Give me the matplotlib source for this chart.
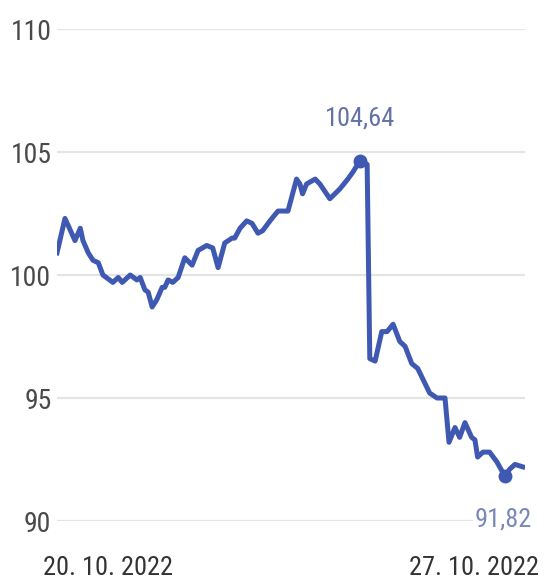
import matplotlib.pyplot as plt
from matplotlib import font_manager

# days since 20. 10. 2022 and index level
days = [0, 0.12, 0.27, 0.35, 0.39, 0.47, 0.54, 0.62, 0.69, 0.84, 0.92, 0.98,
        1.10, 1.20, 1.25, 1.32, 1.37, 1.43, 1.50, 1.58, 1.62, 1.67, 1.74, 1.82,
        1.92, 2.03, 2.12, 2.25, 2.34, 2.42, 2.52, 2.63, 2.67, 2.75, 2.85, 2.93,
        3.02, 3.09, 3.20, 3.32, 3.47, 3.60, 3.65, 3.69, 3.75, 3.88, 3.95, 4.10,
        4.25, 4.37, 4.45, 4.55, 4.66, 4.70, 4.78, 4.88, 4.96, 5.05, 5.15, 5.23,
        5.33, 5.42, 5.60, 5.71, 5.83, 5.89, 5.98, 6.05, 6.13, 6.23, 6.28, 6.32,
        6.40, 6.50, 6.61, 6.73, 6.80, 6.88, 7.00]
values = [100.9, 102.3, 101.4, 101.9, 101.4, 100.9, 100.6, 100.5, 100.0, 99.7, 99.9, 99.7,
          100.0, 99.8, 99.9, 99.4, 99.3, 98.7, 99.0, 99.5, 99.5, 99.8, 99.7, 99.9,
          100.7, 100.4, 101.0, 101.2, 101.1, 100.3, 101.3, 101.5, 101.5, 101.9, 102.2, 102.1,
          101.7, 101.8, 102.2, 102.6, 102.6, 103.9, 103.7, 103.3, 103.7, 103.9, 103.7, 103.1,
          103.5, 103.9, 104.2, 104.64, 104.5, 96.6, 96.5, 97.7, 97.7, 98.0, 97.3, 97.1,
          96.4, 96.2, 95.2, 95.0, 95.0, 93.2, 93.8, 93.4, 94.0, 93.4, 93.3, 92.6,
          92.8, 92.8, 92.4, 91.82, 92.1, 92.3, 92.2]
y_ticks = [90, 95, 100, 105, 110]
date_labels = ["20. 10. 2022", "27. 10. 2022"]

installed = {f.name for f in font_manager.fontManager.ttflist}
fam = [f for f in ["Liberation Sans Narrow", "Roboto Condensed", "Roboto"] if f in installed]
plt.rcParams['font.family'] = fam + ["DejaVu Sans"]

line_col = "#3f59b3"
fig = plt.figure(figsize=(5.55, 5.85), dpi=100)
ax = fig.add_axes([0.1027, 0.1094, 0.843, 0.841])

for t in y_ticks:
    ax.axhline(t, color="#e4e4e4", lw=1.6, zorder=1)

ax.plot(days, values, color=line_col, lw=3.6, solid_joinstyle="round", zorder=3)

i_max = values.index(max(values))
i_min = values.index(min(values))
ax.plot([days[i_max], days[i_min]], [values[i_max], values[i_min]], "o",
        color=line_col, ms=9, zorder=4)
ax.annotate(f"{values[i_max]:.2f}".replace(".", ","), (days[i_max], values[i_max]),
            xytext=(0, 22), textcoords="offset points", ha="center", va="bottom",
            fontsize=19, color="#6373a8")
ax.annotate(f"{values[i_min]:.2f}".replace(".", ","), (days[i_min], values[i_min]),
            xytext=(-22, -31), textcoords="offset points", ha="left", va="center",
            fontsize=19, color="#7a88b8",
            bbox=dict(facecolor="white", edgecolor="none", pad=1))

ax.set_xlim(0, 7.03)
ax.set_ylim(90, 110)
ax.set_yticks(y_ticks)
ax.set_yticklabels([str(t) for t in y_ticks], fontsize=20, color="#4a4a4a")
ax.tick_params(axis="y", length=0, pad=4)
ax.set_xticks([])
for s in ax.spines.values():
    s.set_visible(False)

ax.text(-0.03, -0.096, date_labels[0], transform=ax.transAxes, ha="left", va="center",
        fontsize=19, color="#333333")
ax.text(1.03, -0.096, date_labels[1], transform=ax.transAxes, ha="right", va="center",
        fontsize=19, color="#333333")

fig.savefig("out.png", dpi=100, facecolor="white")
